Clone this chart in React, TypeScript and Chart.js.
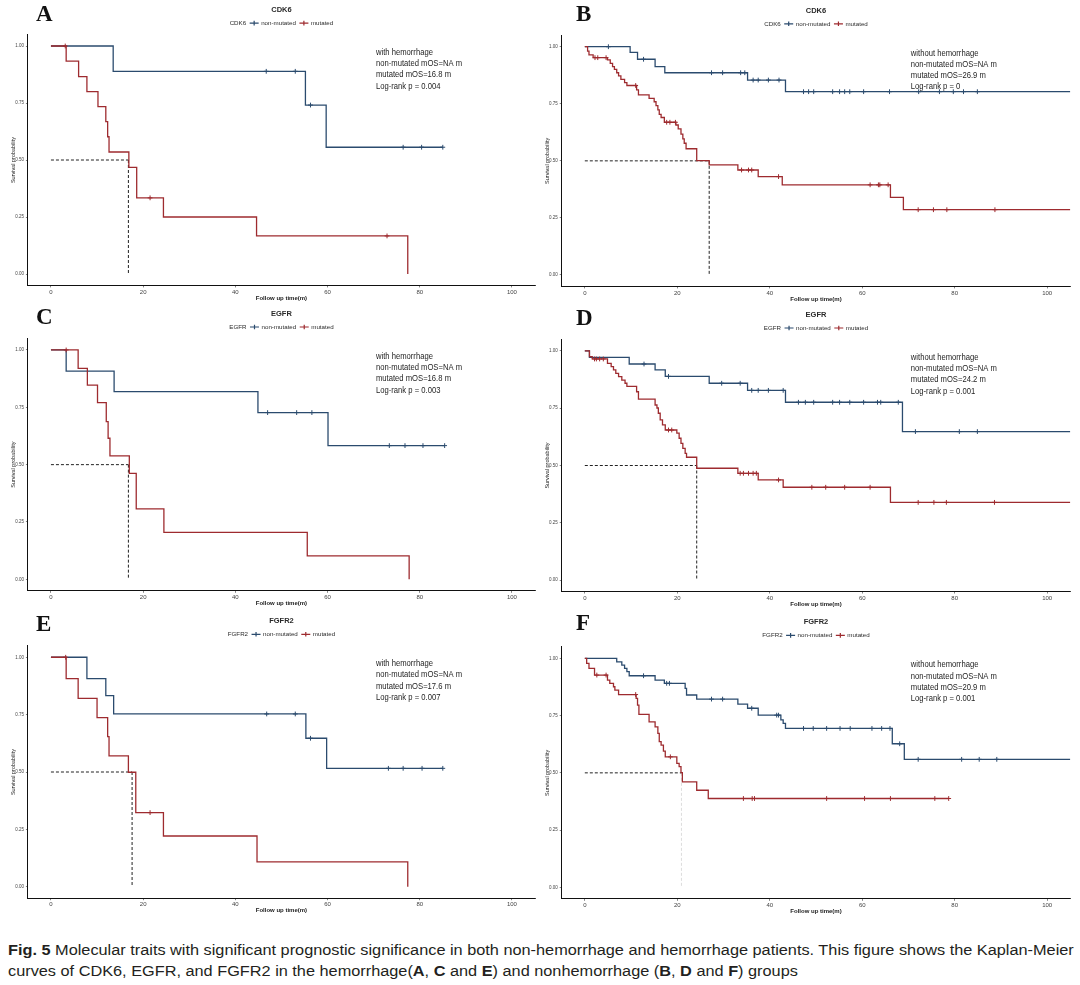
import React, { useEffect, useRef } from "react";
import { Chart, registerables } from "chart.js";

Chart.register(...registerables);

const SANS = "'Liberation Sans', Arial, sans-serif";
const SERIF = "'Liberation Serif', 'Times New Roman', serif";
const NON_COLOR = "#2b4b6e";
const MUT_COLOR = "#9e2b2f";
const TEXT_COLOR = "#2a2a2a";

const xTicks = [0, 20, 40, 60, 80, 100];
const yTicks = [0, 0.25, 0.5, 0.75, 1];
const legendLabels = ["non-mutated", "mutated"];
const xTitle = "Follow up time(m)";
const yTitle = "Survival probability";

// ---------- Panel A: CDK6, with hemorrhage ----------
const aNonTimes = [0, 13.5, 55.2, 59.7, 85.0];
const aNonSurv = [1, 0.889, 0.741, 0.556, 0.556];
const aNonCensor = [46.7, 53.0, 56.3, 76.4, 80.4, 85.0];
const aMutTimes = [0, 3.3, 6.0, 7.8, 10.2, 11.9, 12.3, 12.6, 16.9, 18.6, 24.4, 44.6, 77.4];
const aMutSurv = [1, 0.934, 0.866, 0.8, 0.734, 0.668, 0.602, 0.535, 0.468, 0.334, 0.25, 0.167, 0];
const aMutCensor = [3.1, 21.5, 72.9];

// ---------- Panel B: CDK6, without hemorrhage ----------
const bNonTimes = [0, 9.8, 11.4, 15.2, 17.3, 35.2, 43.4, 105];
const bNonSurv = [1, 0.975, 0.945, 0.913, 0.886, 0.854, 0.803, 0.803];
const bNonCensor = [5.1, 12.7, 27.4, 29.8, 33.7, 34.6, 36.4, 37.5, 39.7, 42.0, 47.3, 48.4, 49.5, 53.6, 55.1, 56.2, 57.3, 60.3, 65.9, 72.2, 76.7, 79.7, 81.9, 84.9];
const bMutTimes = [0, 0.6, 0.9, 1.8, 4.9, 5.5, 6.0, 6.4, 6.9, 7.3, 7.8, 8.6, 9.1, 11.2, 11.6, 13.9, 15.0, 15.4, 15.8, 16.1, 16.5, 17.2, 19.7, 20.2, 20.8, 21.2, 21.5, 21.9, 24.2, 26.9, 33.1, 37.5, 42.7, 66.1, 68.9, 105];
const bMutSurv = [1, 0.981, 0.964, 0.952, 0.942, 0.927, 0.913, 0.901, 0.886, 0.872, 0.857, 0.843, 0.83, 0.811, 0.789, 0.774, 0.759, 0.742, 0.723, 0.704, 0.69, 0.669, 0.657, 0.64, 0.617, 0.596, 0.577, 0.553, 0.501, 0.482, 0.46, 0.431, 0.395, 0.34, 0.286, 0.286];
const bMutCensor = [2.2, 2.8, 4.6, 11.0, 17.7, 18.4, 19.6, 33.9, 35.4, 36.1, 41.9, 61.7, 63.5, 63.8, 65.6, 72.1, 75.4, 78.3, 88.7];

// ---------- Panel C: EGFR, with hemorrhage ----------
const cNonTimes = [0, 3.3, 13.7, 44.9, 60.1, 85.4];
const cNonSurv = [1, 0.908, 0.818, 0.727, 0.583, 0.583];
const cNonCensor = [47.0, 53.3, 56.6, 73.4, 76.8, 80.7, 85.4];
const cMutTimes = [0, 5.9, 7.9, 10.1, 12.0, 12.4, 12.8, 17.0, 18.5, 24.5, 55.6, 77.7];
const cMutSurv = [1, 0.92, 0.847, 0.77, 0.688, 0.615, 0.538, 0.462, 0.307, 0.205, 0.102, 0];
const cMutCensor = [3.3];

// ---------- Panel D: EGFR, without hemorrhage ----------
const dNonTimes = [0, 1.0, 9.6, 15.2, 17.4, 26.9, 35.2, 43.4, 68.7, 105];
const dNonSurv = [1, 0.972, 0.943, 0.917, 0.889, 0.859, 0.828, 0.776, 0.648, 0.648];
const dNonCensor = [12.8, 18.1, 29.6, 33.6, 36.1, 37.5, 39.7, 42.9, 46.2, 47.7, 49.5, 53.6, 55.1, 57.3, 60.3, 63.3, 64.0, 67.8, 71.5, 81.0, 84.9];
const dMutTimes = [0, 1.0, 1.6, 4.9, 5.7, 6.2, 6.7, 7.3, 8.0, 8.7, 9.1, 11.2, 11.6, 15.2, 15.6, 15.9, 16.3, 16.8, 17.4, 19.9, 20.4, 20.8, 21.2, 21.7, 22.0, 24.2, 33.1, 37.5, 42.9, 66.1, 105];
const dMutSurv = [1, 0.975, 0.965, 0.946, 0.932, 0.917, 0.902, 0.888, 0.873, 0.859, 0.845, 0.822, 0.79, 0.764, 0.751, 0.728, 0.699, 0.677, 0.655, 0.641, 0.619, 0.597, 0.575, 0.553, 0.536, 0.488, 0.466, 0.437, 0.405, 0.339, 0.339];
const dMutCensor = [2.1, 2.5, 3.2, 4.0, 18.1, 18.8, 33.6, 34.3, 35.4, 36.4, 37.1, 41.9, 49.1, 52.1, 56.2, 61.7, 72.1, 75.5, 78.2, 88.6];

// ---------- Panel E: FGFR2, with hemorrhage ----------
const eNonTimes = [0, 7.8, 11.9, 13.6, 55.3, 59.8, 85.0];
const eNonSurv = [1, 0.907, 0.833, 0.753, 0.647, 0.516, 0.516];
const eNonCensor = [46.8, 53.0, 56.3, 73.2, 76.4, 80.5, 85.0];
const eMutTimes = [0, 3.3, 5.9, 10.0, 12.3, 12.6, 16.8, 18.4, 24.4, 44.7, 77.4];
const eMutSurv = [1, 0.907, 0.821, 0.737, 0.654, 0.57, 0.499, 0.323, 0.221, 0.108, 0];
const eMutCensor = [3.2, 21.5];

// ---------- Panel F: FGFR2, without hemorrhage ----------
const fNonTimes = [0, 6.9, 8.0, 8.6, 9.1, 9.6, 15.2, 17.2, 21.7, 22.0, 24.2, 33.1, 35.2, 37.5, 42.4, 42.9, 43.4, 66.5, 69.1, 105];
const fNonSurv = [1, 0.985, 0.97, 0.956, 0.942, 0.924, 0.905, 0.891, 0.869, 0.84, 0.822, 0.8, 0.782, 0.752, 0.731, 0.716, 0.694, 0.627, 0.559, 0.559];
const fNonCensor = [12.7, 17.7, 18.3, 27.4, 29.8, 36.1, 41.5, 41.9, 47.3, 49.4, 52.3, 55.2, 57.4, 62.1, 64.2, 66.0, 68.1, 72.1, 81.5, 85.3, 89.1];
const fMutTimes = [0, 0.4, 0.9, 2.1, 4.9, 5.4, 6.2, 6.5, 7.3, 11.1, 11.4, 11.7, 13.9, 15.2, 15.8, 16.1, 16.5, 17.0, 17.4, 19.9, 20.4, 20.8, 21.1, 24.2, 26.7, 78.7];
const fMutSurv = [1, 0.978, 0.956, 0.927, 0.905, 0.891, 0.876, 0.861, 0.842, 0.825, 0.796, 0.755, 0.723, 0.701, 0.672, 0.636, 0.621, 0.595, 0.57, 0.541, 0.527, 0.501, 0.461, 0.424, 0.388, 0.388];
const fMutCensor = [2.6, 4.6, 11.0, 18.5, 34.3, 36.2, 36.7, 52.3, 60.5, 66.1, 75.7, 78.7];

// ---------- Panel annotations ----------
const panelLetters = ["A", "B", "C", "D", "E", "F"];
const panelGenes = ["CDK6", "CDK6", "EGFR", "EGFR", "FGFR2", "FGFR2"];
const panelGroups = ["with hemorrhage", "without hemorrhage", "with hemorrhage", "without hemorrhage", "with hemorrhage", "without hemorrhage"];
const panelMedians = [16.8, 26.9, 16.8, 24.2, 17.6, 20.9];
const panelMedianLabels = ["16.8", "26.9", "16.8", "24.2", "17.6", "20.9"];
const panelPValues = ["0.004", "0", "0.003", "0.001", "0.007", "0.001"];

const panelSeries = [
  { nonT: aNonTimes, nonS: aNonSurv, nonC: aNonCensor, mutT: aMutTimes, mutS: aMutSurv, mutC: aMutCensor },
  { nonT: bNonTimes, nonS: bNonSurv, nonC: bNonCensor, mutT: bMutTimes, mutS: bMutSurv, mutC: bMutCensor },
  { nonT: cNonTimes, nonS: cNonSurv, nonC: cNonCensor, mutT: cMutTimes, mutS: cMutSurv, mutC: cMutCensor },
  { nonT: dNonTimes, nonS: dNonSurv, nonC: dNonCensor, mutT: dMutTimes, mutS: dMutSurv, mutC: dMutCensor },
  { nonT: eNonTimes, nonS: eNonSurv, nonC: eNonCensor, mutT: eMutTimes, mutS: eMutSurv, mutC: eMutCensor },
  { nonT: fNonTimes, nonS: fNonSurv, nonC: fNonCensor, mutT: fMutTimes, mutS: fMutSurv, mutC: fMutCensor },
];

// ---------- Layout (positions only) ----------
const LAYOUT = [
  { left: 0, top: 0, width: 540, height: 305, plotLeft: 27.9, plotRight: 537, plotTop: 34.6, plotBottom: 285.4, letterY: 15, medianVColor: "#222" },
  { left: 540, top: 0, width: 540, height: 305, plotLeft: 21.7, plotRight: 530.3, plotTop: 35.3, plotBottom: 286.4, letterY: 15.5, medianVColor: "#222" },
  { left: 0, top: 302, width: 540, height: 308, plotLeft: 27.9, plotRight: 537, plotTop: 36.5, plotBottom: 288.8, letterY: 16, medianVColor: "#222" },
  { left: 540, top: 302, width: 540, height: 308, plotLeft: 21.7, plotRight: 530.3, plotTop: 37.5, plotBottom: 289.5, letterY: 17, medianVColor: "#222" },
  { left: 0, top: 608, width: 540, height: 314, plotLeft: 27.9, plotRight: 537, plotTop: 37.8, plotBottom: 290.2, letterY: 17, medianVColor: "#222" },
  { left: 540, top: 608, width: 540, height: 314, plotLeft: 21.7, plotRight: 530.3, plotTop: 38.9, plotBottom: 290.8, letterY: 16, medianVColor: "#dcdcdc" },
];

const ANNOT_X = 70.5;
const ANNOT_Y = 0.972;

function survAt(times: number[], surv: number[], t: number) {
  let s = surv[0];
  for (let i = 0; i < times.length; i++) {
    if (times[i] <= t) s = surv[i];
  }
  return s;
}

const decorPlugin = {
  id: "decor",
  afterDraw(chart: any, _args: any, opts: any) {
    const { ctx, chartArea, scales } = chart;
    const xs = scales.x;
    const ys = scales.y;
    ctx.save();
    // panel letter
    ctx.fillStyle = "#111";
    ctx.font = `bold 23px ${SERIF}`;
    ctx.textAlign = "left";
    ctx.textBaseline = "middle";
    ctx.fillText(opts.letter, 36, opts.letterY);

    const cx = (chartArea.left + chartArea.right) / 2;
    // gene title
    ctx.font = `bold 7.5px ${SANS}`;
    ctx.textAlign = "center";
    ctx.fillStyle = TEXT_COLOR;
    ctx.fillText(opts.gene, cx, chartArea.top - 24.5);

    // legend
    ctx.font = `6.2px ${SANS}`;
    ctx.textAlign = "left";
    const ly = chartArea.top - 11.5;
    const seg = 9;
    const gapBefore = 3.5;
    const gapAfter = 2.5;
    const items = [
      { label: legendLabels[0], color: NON_COLOR },
      { label: legendLabels[1], color: MUT_COLOR },
    ];
    const gw = ctx.measureText(opts.gene).width;
    let total = gw;
    items.forEach((it) => {
      total += gapBefore + seg + gapAfter + ctx.measureText(it.label).width;
    });
    let x = cx - total / 2;
    ctx.fillStyle = TEXT_COLOR;
    ctx.fillText(opts.gene, x, ly);
    x += gw;
    items.forEach((it) => {
      x += gapBefore;
      ctx.strokeStyle = it.color;
      ctx.lineWidth = 1.2;
      ctx.beginPath();
      ctx.moveTo(x, ly);
      ctx.lineTo(x + seg, ly);
      ctx.moveTo(x + seg / 2, ly - 2.3);
      ctx.lineTo(x + seg / 2, ly + 2.3);
      ctx.stroke();
      x += seg + gapAfter;
      ctx.fillStyle = TEXT_COLOR;
      ctx.fillText(it.label, x, ly);
      x += ctx.measureText(it.label).width;
    });

    // annotation block
    const ax = xs.getPixelForValue(ANNOT_X);
    const ay = ys.getPixelForValue(ANNOT_Y);
    ctx.font = `9px ${SANS}`;
    ctx.fillStyle = "#1e1e1e";
    ctx.textAlign = "left";
    ctx.textBaseline = "middle";
    opts.lines.forEach((ln: string, i: number) => {
      ctx.save();
      ctx.translate(ax, ay + i * 11.3);
      ctx.scale(0.85, 1);
      ctx.fillText(ln, 0, 0);
      ctx.restore();
    });
    ctx.restore();
  },
};

function Panel({ idx }: { idx: number }) {
  const ref = useRef<HTMLCanvasElement>(null);
  const lay = LAYOUT[idx];
  useEffect(() => {
    const s = panelSeries[idx];
    const med = panelMedians[idx];
    const toPts = (t: number[], v: number[]) => t.map((tt, i) => ({ x: tt, y: v[i] }));
    const censorPts = (c: number[], t: number[], v: number[]) => c.map((cc) => ({ x: cc, y: survAt(t, v, cc) }));
    const xAxisH = lay.height - lay.plotBottom;
    const yAxisW = lay.plotLeft;
    const xTitleSize = 6;
    const yTitleSize = 5.5;
    const chart = new Chart(ref.current as HTMLCanvasElement, {
      type: "line",
      data: {
        datasets: [
          {
            data: censorPts(s.mutC, s.mutT, s.mutS),
            showLine: false,
            pointStyle: "cross",
            pointRadius: 2.4,
            pointBorderWidth: 1,
            borderColor: MUT_COLOR,
            backgroundColor: MUT_COLOR,
          },
          {
            data: toPts(s.mutT, s.mutS),
            stepped: true,
            borderColor: MUT_COLOR,
            borderWidth: 1.3,
            pointRadius: 0,
            fill: false,
          },
          {
            data: censorPts(s.nonC, s.nonT, s.nonS),
            showLine: false,
            pointStyle: "cross",
            pointRadius: 2.4,
            pointBorderWidth: 1,
            borderColor: NON_COLOR,
            backgroundColor: NON_COLOR,
          },
          {
            data: toPts(s.nonT, s.nonS),
            stepped: true,
            borderColor: NON_COLOR,
            borderWidth: 1.3,
            pointRadius: 0,
            fill: false,
          },
          {
            data: [{ x: 0, y: 0.5 }, { x: med, y: 0.5 }],
            borderColor: "#222",
            borderWidth: 1,
            borderDash: [3, 2],
            pointRadius: 0,
            fill: false,
          },
          {
            data: [{ x: med, y: 0.5 }, { x: med, y: 0 }],
            borderColor: lay.medianVColor,
            borderWidth: 1,
            borderDash: [3, 2],
            pointRadius: 0,
            fill: false,
          },
        ],
      },
      options: {
        animation: false,
        responsive: false,
        maintainAspectRatio: false,
        events: [],
        layout: {
          padding: { left: 0, top: lay.plotTop, right: lay.width - lay.plotRight, bottom: 0 },
        },
        plugins: {
          legend: { display: false },
          tooltip: { enabled: false },
          title: { display: false },
          decor: {
            letter: panelLetters[idx],
            letterY: lay.letterY,
            gene: panelGenes[idx],
            lines: [
              panelGroups[idx],
              "non-mutated mOS=NA m",
              `mutated mOS=${panelMedianLabels[idx]} m`,
              `Log-rank p = ${panelPValues[idx]}`,
            ],
          },
        } as any,
        scales: {
          x: {
            type: "linear",
            min: -5,
            max: 105,
            afterBuildTicks: (axis: any) => {
              axis.ticks = xTicks.map((v) => ({ value: v }));
            },
            afterFit: (axis: any) => {
              axis.height = xAxisH;
            },
            grid: { display: true, drawOnChartArea: false, drawTicks: true, tickLength: 2, color: "#333", lineWidth: 0.6 },
            border: { display: true, color: "#111", width: 1 },
            ticks: {
              padding: 1,
              maxRotation: 0,
              autoSkip: false,
              color: "#444",
              font: { size: 6, family: SANS },
              callback: (v: any) => String(v),
            },
            title: {
              display: true,
              text: xTitle,
              color: "#222",
              font: { size: xTitleSize, family: SANS, weight: "bold", lineHeight: 1.2 },
              padding: { top: 0, bottom: Math.max(0, xAxisH - 12.5 - (xTitleSize * 1.2) / 2) },
            },
          },
          y: {
            type: "linear",
            min: -0.05,
            max: 1.05,
            afterBuildTicks: (axis: any) => {
              axis.ticks = yTicks.map((v) => ({ value: v }));
            },
            afterFit: (axis: any) => {
              axis.width = yAxisW;
            },
            grid: { display: true, drawOnChartArea: false, drawTicks: true, tickLength: 2, color: "#333", lineWidth: 0.6 },
            border: { display: true, color: "#111", width: 1 },
            ticks: {
              padding: 2,
              color: "#444",
              font: { size: 4.5, family: SANS },
              callback: (v: any) => Number(v).toFixed(2),
            },
            title: {
              display: true,
              text: yTitle,
              color: "#222",
              font: { size: yTitleSize, family: SANS, lineHeight: 1.2 },
              padding: { top: Math.max(0, yAxisW - 14.5 - (yTitleSize * 1.2) / 2), bottom: 0 },
            },
          },
        },
      },
      plugins: [decorPlugin as any],
    } as any);
    return () => chart.destroy();
  }, [idx]);
  return (
    <canvas
      ref={ref}
      width={lay.width}
      height={lay.height}
      style={{ position: "absolute", left: lay.left, top: lay.top, width: lay.width, height: lay.height }}
    />
  );
}

const captionLine1Rest =
  " Molecular traits with significant prognostic significance in both non-hemorrhage and hemorrhage patients. This figure shows the Kaplan-Meier";

function Caption() {
  const l1 = useRef<HTMLDivElement>(null);
  const l2 = useRef<HTMLDivElement>(null);
  useEffect(() => {
    if (!l1.current || !l2.current) return;
    const w = l1.current.offsetWidth;
    const k = 1066 / w;
    l1.current.style.transform = `scaleX(${k})`;
    l2.current.style.transform = `scaleX(${k})`;
  }, []);
  const lineStyle: React.CSSProperties = {
    display: "inline-block",
    whiteSpace: "nowrap",
    transformOrigin: "left center",
    fontFamily: SANS,
    fontSize: "15.5px",
    lineHeight: "21px",
    color: "#231f20",
  };
  return (
    <div style={{ position: "absolute", left: 8, top: 939, width: 1072 }}>
      <div ref={l1} style={lineStyle}>
        <b>Fig. 5</b> {captionLine1Rest}
      </div>
      <br />
      <div ref={l2} style={lineStyle}>
        curves of CDK6, EGFR, and FGFR2 in the hemorrhage(<b>A</b>, <b>C</b> and <b>E</b>) and nonhemorrhage (<b>B</b>, <b>D</b> and <b>F</b>) groups
      </div>
    </div>
  );
}

export default function App() {
  return (
    <div style={{ position: "absolute", left: 0, top: 0, width: 1080, height: 985, background: "#fff", overflow: "hidden" }}>
      {LAYOUT.map((_, i) => (
        <Panel key={i} idx={i} />
      ))}
      <Caption />
    </div>
  );
}
